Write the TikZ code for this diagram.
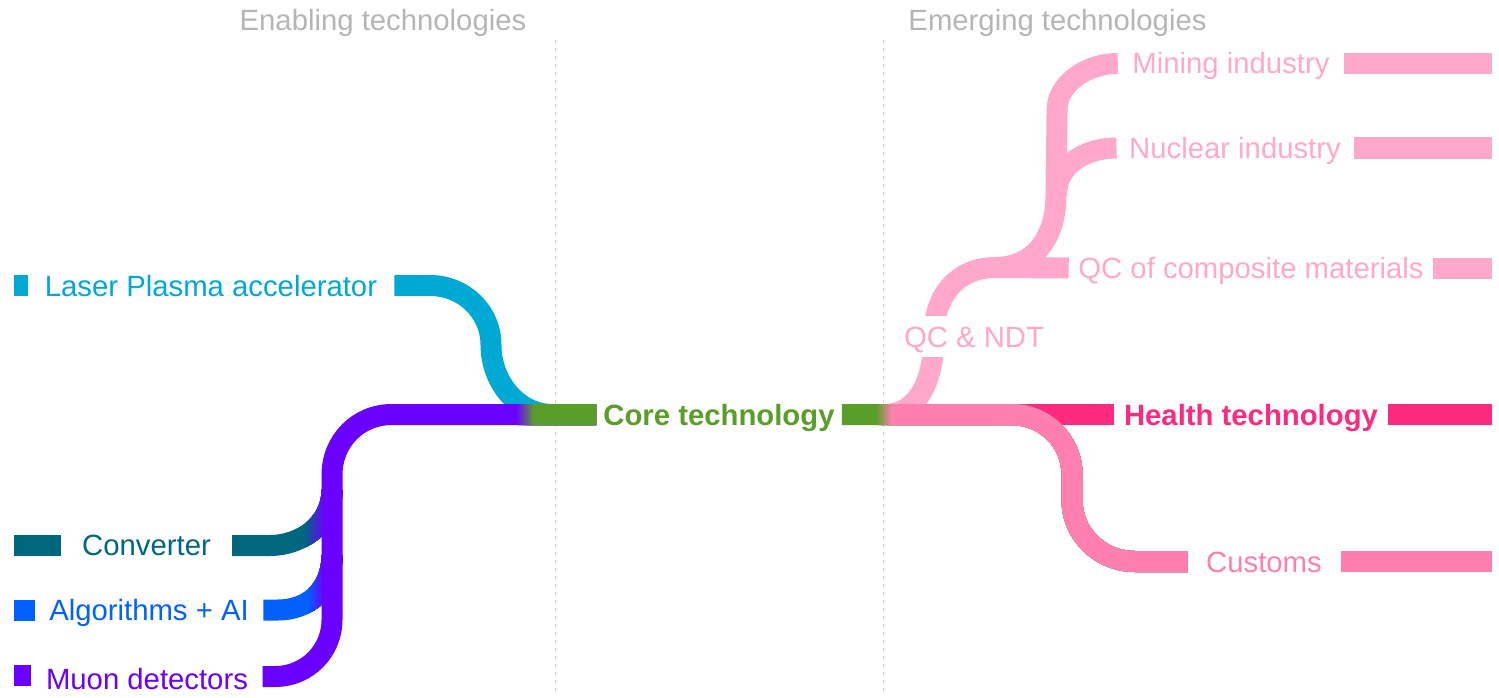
\documentclass[tikz,border=0pt]{standalone}
\usepackage{fontspec}
\setmainfont{Liberation Sans}
\definecolor{cCyan}{HTML}{00A8D4}
\definecolor{cTeal}{HTML}{00677F}
\definecolor{cBlue}{HTML}{0061FE}
\definecolor{cPurple}{HTML}{6A00FF}
\definecolor{cGreen}{HTML}{5A9E2A}
\definecolor{cLight}{HTML}{FFA8CB}
\definecolor{cHot}{HTML}{FF2A7F}
\definecolor{cMid}{HTML}{FF80B0}
\definecolor{cHead}{HTML}{B5B5B5}
\definecolor{cRule}{HTML}{D2D2D2}
\tikzset{
  bar/.style={line width=21pt,line cap=butt,line join=round},
  lbl/.style={font=\fontsize{29.3}{34}\selectfont,text height=21pt,text depth=0pt,inner ysep=0pt,anchor=center},
  bold lbl/.style={lbl,font=\fontsize{29.3}{34}\selectfont\bfseries},
  head/.style={lbl,text=cHead},
  rule/.style={cRule,line width=1pt,dash pattern=on 3pt off 5pt}
}
% #1 path, #2 start colour, #3 end colour, #4 x start, #5 x end
\newcommand{\gradstroke}[5]{%
  \draw[bar,#2] #1;
  \foreach \k in {1,...,12}{%
    \pgfmathsetmacro{\xa}{#4+(#5-#4)*(\k-1)/12}%
    \pgfmathtruncatemacro{\pc}{100*\k/12}%
    \begin{scope}
      \clip (\xa,0) rectangle (1499,698);
      \draw[bar,#3!\pc!#2] #1;
    \end{scope}
  }%
}
\begin{document}
\begin{tikzpicture}[x=1pt,y=-1pt]
\useasboundingbox (0,0) rectangle (1499,698);
% rules
\coordinate (r1a) at (555.5,40); \coordinate (r1b) at (555.5,696);
\coordinate (r2a) at (883,40); \coordinate (r2b) at (883,696);
\draw[rule] (r1a) -- (r1b);
\draw[rule] (r2a) -- (r2b);
% headers
\node[head] (hEnabling) at (383,20) {Enabling technologies};
\node[head] (hEmerging) at (1057.5,20) {Emerging technologies};
% labels
\node[lbl,text=cCyan,inner xsep=17pt] (laser) at (211,286) {Laser Plasma accelerator};
\node[lbl,text=cTeal,inner xsep=21pt] (conv) at (146.5,545) {Converter};
\node[lbl,text=cBlue,inner xsep=14.5pt] (algo) at (149,610) {Algorithms + AI};
\node[lbl,text=cPurple,inner xsep=14.5pt] (muon) at (147,679) {Muon detectors};
\node[bold lbl,text=cGreen,inner xsep=7pt] (core) at (719,414.5) {Core technology};
\node[lbl,text=cLight,inner xsep=14.5pt] (mining) at (1231,63.5) {Mining industry};
\node[lbl,text=cLight,inner xsep=12.5pt] (nuclear) at (1235,148) {Nuclear industry};
\node[lbl,text=cLight,inner xsep=9.5pt] (qcm) at (1251,268) {QC of composite materials};
\node[bold lbl,text=cHot,inner xsep=9.5pt] (health) at (1251,415) {Health technology};
\node[lbl,text=cMid,inner xsep=18.5pt] (customs) at (1264,562) {Customs};
% free ends
\coordinate (eLaser) at (14,285.5);
\coordinate (eConv) at (14,545.5);
\coordinate (eAlgo) at (14,610);
\coordinate (eMuon) at (14,675.5);
\coordinate (eMining) at (1492,63.5);
\coordinate (eNuclear) at (1492,148);
\coordinate (eQcm) at (1492,268);
\coordinate (eHealth) at (1492,414.5);
\coordinate (eCustoms) at (1492,561.5);
% stubs
\draw[bar,cCyan] (laser.west |- eLaser) -- (eLaser);
\draw[bar,cTeal] (conv.west |- eConv) -- (eConv);
\draw[bar,cBlue] (algo.west |- eAlgo) -- (eAlgo);
\draw[bar,cPurple] (muon.west |- eMuon) -- (eMuon);
\draw[bar,cLight] (mining.east |- eMining) -- (eMining);
\draw[bar,cLight] (nuclear.east |- eNuclear) -- (eNuclear);
\draw[bar,cLight] (qcm.east |- eQcm) -- (eQcm);
\draw[bar,cHot] (health.east |- eHealth) -- (eHealth);
\draw[bar,cMid] (customs.east |- eCustoms) -- (eCustoms);
% left tree
\draw[bar,cCyan] (laser.east |- eLaser) -- (430,285.5) .. controls (464,285.5) and (491,312) .. (491,345)
   .. controls (491,382) and (518,414.5) .. (552,414.5);
\gradstroke{(conv.east |- eConv) -- (270,545.5) .. controls (300,545.5) and (332,525) .. (332,490)}{cTeal}{cPurple}{305}{326}
\gradstroke{(algo.east |- eAlgo) -- (278,610) .. controls (308,610) and (332,590) .. (332,555)}{cBlue}{cPurple}{308}{326}
\gradstroke{(muon.east |- 0,676.5) -- (275,676.5) .. controls (308,676.5) and (332,650) .. (332,620) -- (332,475) .. controls (332,441) and (358,414.5) .. (392,414.5) -- (core.west)}{cPurple}{cGreen}{517}{535}
% right tree
\draw[bar,cHot] (950,414.5) -- (health.west |- eHealth);
\draw[bar,cLight] (885,414.5) .. controls (915,414.5) and (934,385) .. (934,335)
   .. controls (934,295) and (958,267.5) .. (995,267.5) -- (qcm.west |- eQcm);
\draw[bar,cLight] (995,267.5) .. controls (1032,267.5) and (1056,240) .. (1056,195)
   .. controls (1056,170) and (1057,130) .. (1057,110)
   .. controls (1057,85) and (1085,63.5) .. (mining.west |- eMining);
\draw[bar,cLight] (nuclear.west |- eNuclear) .. controls (1085,148) and (1056.5,165) .. (1056.5,195);
\node[lbl,text=cLight,fill=white,inner xsep=4pt,inner ysep=10pt] (qcndt) at (974,336.5) {QC \& NDT};
\gradstroke{(core.east) -- (1010,414.5) .. controls (1045,414.5) and (1072,441) .. (1072,475) -- (1072,500)
   .. controls (1072,534) and (1100,561.5) .. (1135,561.5) -- (customs.west |- eCustoms)}{cGreen}{cMid}{877}{893}
\end{tikzpicture}
\end{document}
